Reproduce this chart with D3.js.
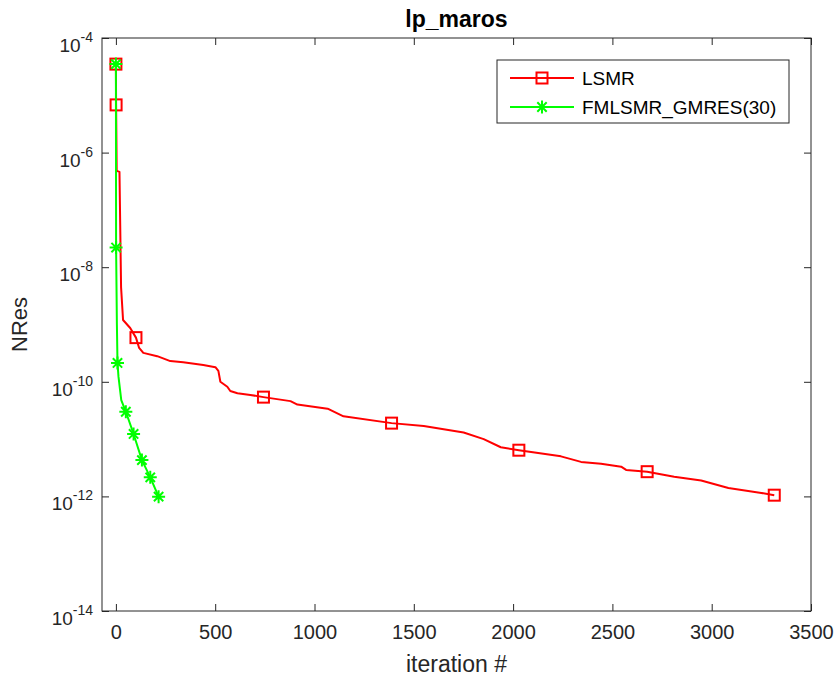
<!DOCTYPE html>
<html>
<head>
<meta charset="utf-8">
<script src="https://cdn.jsdelivr.net/npm/d3@7"></script>
<style>
  html, body { margin: 0; padding: 0; background: #fff; }
  svg { display: block; font-family: "Liberation Sans", Arial, Helvetica, sans-serif; }
</style>
</head>
<body>
<div id="chart"></div>
<script>
// ---------------- data ----------------
const titleText = "lp_maros";
const xLabelText = "iteration #";
const yLabelText = "NRes";
const seriesNames = ["LSMR", "FMLSMR_GMRES(30)"];

const xTicks = [0, 500, 1000, 1500, 2000, 2500, 3000, 3500];
const yTickExps = [-4, -6, -8, -10, -12, -14];

// LSMR residual history (iteration, NRes)
const lsmrIter = [0, 1, 4, 18, 26, 36, 72, 101, 117, 138, 208, 274, 339, 440, 501, 516, 526, 561, 576, 612, 677, 743, 879, 914, 1066, 1146, 1388, 1550, 1751, 1852, 1938, 2029, 2241, 2342, 2443, 2544, 2569, 2675, 2811, 2947, 3084, 3250, 3315];
const lsmrRes  = [3.5e-5, 6.8e-6, 4.8e-7, 4.6e-7, 4.5e-9, 1.2e-9, 8.7e-10, 5.9e-10, 3.9e-10, 3.2e-10, 2.8e-10, 2.3e-10, 2.2e-10, 1.96e-10, 1.8e-10, 1.55e-10, 1.0e-10, 8.2e-11, 6.9e-11, 6.3e-11, 5.9e-11, 5.4e-11, 4.6e-11, 4.0e-11, 3.4e-11, 2.5e-11, 1.9e-11, 1.7e-11, 1.3e-11, 1.0e-11, 7.2e-12, 6.4e-12, 5.0e-12, 4.0e-12, 3.7e-12, 3.3e-12, 2.9e-12, 2.7e-12, 2.2e-12, 1.9e-12, 1.4e-12, 1.15e-12, 1.05e-12];
const lsmrMarkIter = [0, 1, 101, 743, 1388, 2029, 2675, 3315];
const lsmrMarkRes  = [3.5e-5, 6.8e-6, 5.9e-10, 5.4e-11, 1.9e-11, 6.4e-12, 2.7e-12, 1.05e-12];

// FMLSMR_GMRES(30) residual history
const fmIter = [0, 1, 5, 8, 13, 27, 30, 50, 89, 131, 173, 215];
const fmRes  = [3.5e-5, 2.2e-8, 1.0e-9, 2.13e-10, 1.23e-10, 4.8e-11, 4.5e-11, 3.0e-11, 1.23e-11, 4.3e-12, 2.15e-12, 9.9e-13];
const fmMarkIter = [0, 1, 8, 50, 89, 131, 173, 215];
const fmMarkRes  = [3.5e-5, 2.2e-8, 2.13e-10, 3.0e-11, 1.23e-11, 4.3e-12, 2.15e-12, 9.9e-13];

const colors = ["#ff0000", "#00ff00"];
const axisColor = "#262626";

// ---------------- layout ----------------
const W = 838, H = 685;
const plot = { left: 102, right: 811, top: 38, bottom: 611 };

const svg = d3.select("#chart").append("svg").attr("width", W).attr("height", H);

const x = d3.scaleLinear().domain([-70, 3500]).range([plot.left, plot.right]);
const y = d3.scaleLog().domain([1e-14, 1e-4]).range([plot.bottom, plot.top]);

const tickLen = 7;

// axes (ticks inward, box on)
const gx = svg.append("g").attr("transform", `translate(0,${plot.bottom})`)
  .call(d3.axisBottom(x).tickValues(xTicks).tickSizeInner(-tickLen).tickSizeOuter(0).tickPadding(14).tickFormat(d3.format("d")));
const gxTop = svg.append("g").attr("transform", `translate(0,${plot.top})`)
  .call(d3.axisTop(x).tickValues(xTicks).tickSizeInner(-tickLen).tickSizeOuter(0).tickFormat(""));
const yTickVals = yTickExps.map(e => Math.pow(10, e));
const gy = svg.append("g").attr("transform", `translate(${plot.left},0)`)
  .call(d3.axisLeft(y).tickValues(yTickVals).tickSizeInner(-tickLen).tickSizeOuter(0).tickFormat(""));
const gyR = svg.append("g").attr("transform", `translate(${plot.right},0)`)
  .call(d3.axisRight(y).tickValues(yTickVals).tickSizeInner(-tickLen).tickSizeOuter(0).tickFormat(""));

[gx, gxTop, gy, gyR].forEach(g => {
  g.select(".domain").remove();
  g.selectAll(".tick line").attr("stroke", axisColor).attr("stroke-width", 1);
});
gx.selectAll(".tick text").attr("fill", axisColor).attr("font-size", 20)
  .attr("font-family", "Liberation Sans, Arial, sans-serif");

// y tick labels with superscripts
yTickExps.forEach(e => {
  const t = svg.append("text")
    .attr("x", plot.left - 9)
    .attr("y", y(Math.pow(10, e)) + 14)
    .attr("text-anchor", "end")
    .attr("fill", axisColor)
    .attr("font-size", 19);
  t.append("tspan").text("10");
  t.append("tspan").attr("dy", -10).attr("font-size", 14).text(String(e));
});

// box
svg.append("rect")
  .attr("x", plot.left).attr("y", plot.top)
  .attr("width", plot.right - plot.left).attr("height", plot.bottom - plot.top)
  .attr("fill", "none").attr("stroke", axisColor).attr("stroke-width", 1);

// clip
svg.append("clipPath").attr("id", "clip").append("rect")
  .attr("x", plot.left).attr("y", plot.top)
  .attr("width", plot.right - plot.left).attr("height", plot.bottom - plot.top);

const line = d3.line().x(d => x(d[0])).y(d => y(d[1]));
const plotG = svg.append("g").attr("clip-path", "url(#clip)");

function squareMarker(g, cx, cy, color) {
  g.append("rect").attr("x", cx - 5.5).attr("y", cy - 5.5).attr("width", 11).attr("height", 11)
    .attr("fill", "none").attr("stroke", color).attr("stroke-width", 2);
}
function starMarker(g, cx, cy, color) {
  const r = 6.5;
  const p = d3.path();
  p.moveTo(cx - r, cy); p.lineTo(cx + r, cy);
  p.moveTo(cx, cy - r); p.lineTo(cx, cy + r);
  const k = r * 0.72;
  p.moveTo(cx - k, cy - k); p.lineTo(cx + k, cy + k);
  p.moveTo(cx - k, cy + k); p.lineTo(cx + k, cy - k);
  g.append("path").attr("d", p.toString()).attr("stroke", color).attr("stroke-width", 2).attr("fill", "none");
}

// LSMR
plotG.append("path").datum(lsmrIter.map((v, i) => [v, lsmrRes[i]]))
  .attr("d", line).attr("fill", "none").attr("stroke", colors[0]).attr("stroke-width", 2).attr("stroke-linejoin", "round");
lsmrMarkIter.forEach((v, i) => squareMarker(plotG, x(v), y(lsmrMarkRes[i]), colors[0]));

// FMLSMR
plotG.append("path").datum(fmIter.map((v, i) => [v, fmRes[i]]))
  .attr("d", line).attr("fill", "none").attr("stroke", colors[1]).attr("stroke-width", 2).attr("stroke-linejoin", "round");
fmMarkIter.forEach((v, i) => starMarker(plotG, x(v), y(fmMarkRes[i]), colors[1]));

// title & labels
svg.append("text").attr("x", (plot.left + plot.right) / 2).attr("y", 27)
  .attr("text-anchor", "middle").attr("font-weight", "bold").attr("font-size", 23).attr("fill", "#000")
  .text(titleText);
svg.append("text").attr("x", (plot.left + plot.right) / 2).attr("y", 672)
  .attr("text-anchor", "middle").attr("font-size", 23).attr("fill", axisColor)
  .text(xLabelText);
svg.append("text").attr("transform", `translate(27,${(plot.top + plot.bottom) / 2}) rotate(-90)`)
  .attr("text-anchor", "middle").attr("font-size", 22).attr("fill", axisColor)
  .text(yLabelText);

// legend
const leg = svg.append("g");
leg.append("rect").attr("x", 497).attr("y", 60).attr("width", 292).attr("height", 63)
  .attr("fill", "#fff").attr("stroke", axisColor).attr("stroke-width", 1);
const legRows = [78, 107];
seriesNames.forEach((name, i) => {
  const ly = legRows[i];
  leg.append("line").attr("x1", 510).attr("x2", 574).attr("y1", ly).attr("y2", ly)
    .attr("stroke", colors[i]).attr("stroke-width", 2);
  if (i === 0) squareMarker(leg, 542, ly, colors[i]); else starMarker(leg, 542, ly, colors[i]);
  leg.append("text").attr("x", 582).attr("y", ly + 7).attr("font-size", 19).attr("fill", "#000").text(name);
});
</script>
</body>
</html>
